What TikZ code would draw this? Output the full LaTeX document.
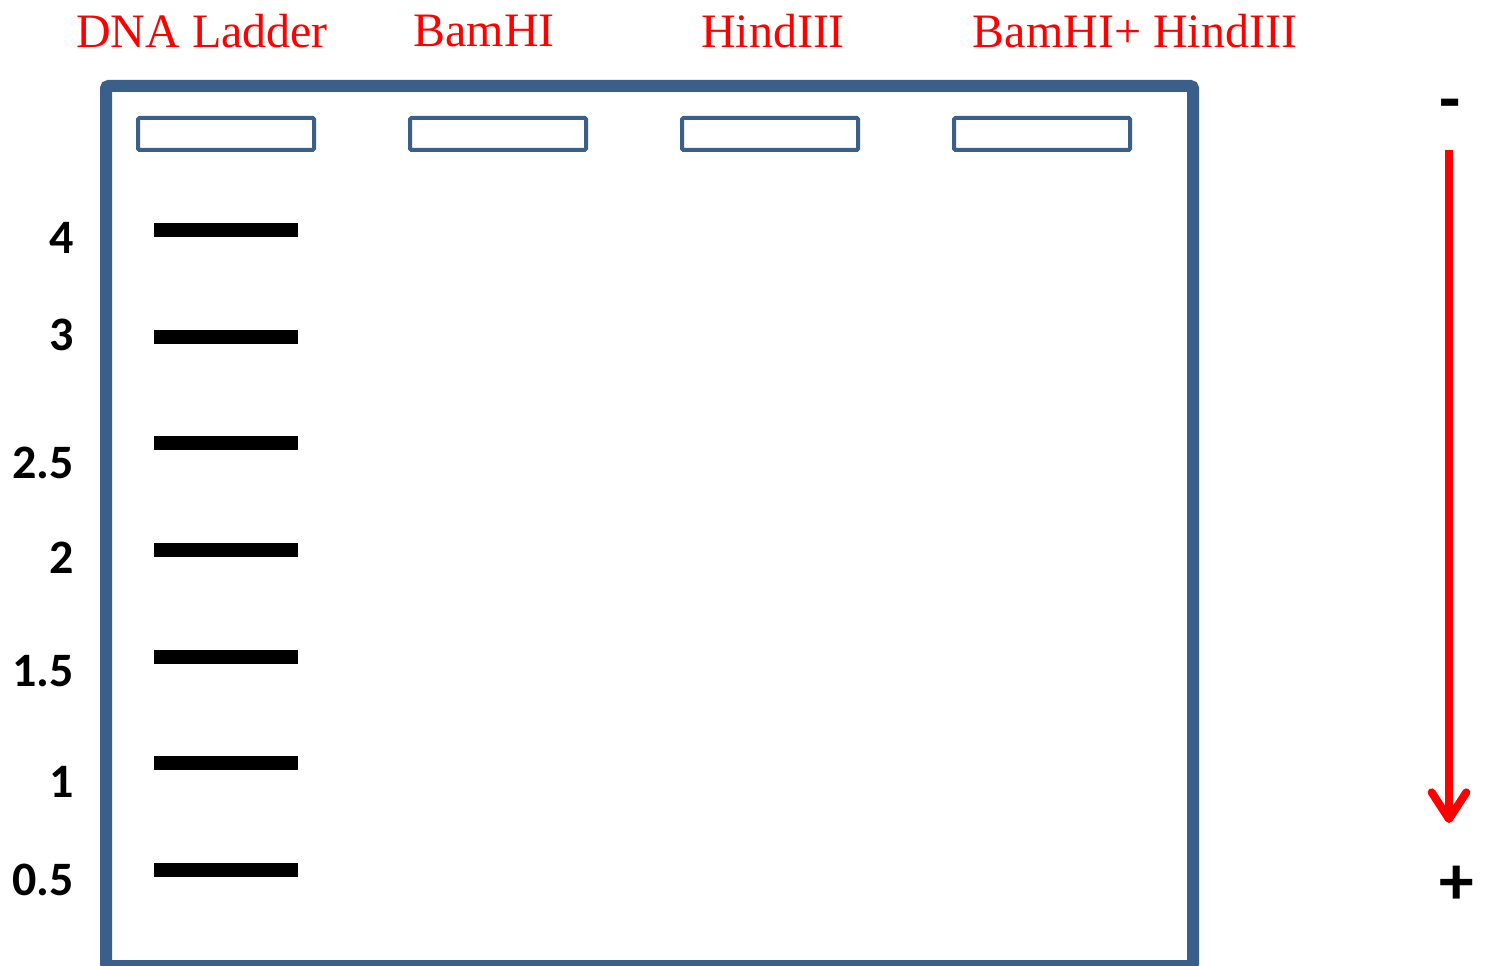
\documentclass[tikz,border=0pt]{standalone}
\usepackage{fontspec}
\setmainfont{Liberation Serif}
\newfontfamily\numfont{Carlito}
\usetikzlibrary{arrows.meta}
\definecolor{gelblue}{RGB}{58,95,138}
\definecolor{lblred}{RGB}{255,0,0}
\tikzset{
  gelbox/.style={draw=gelblue,line width=9pt,rounded corners=2pt},
  wellbox/.style={draw=gelblue,line width=3pt,rounded corners=1pt},
  bandbar/.style={fill=black,draw=none,minimum width=108pt,minimum height=10.5pt,inner sep=0pt},
  lanelbl/.style={text=lblred,font=\fontsize{36}{36}\selectfont,inner sep=0pt},
  sizelbl/.style={font=\numfont\bfseries\fontsize{36}{36}\selectfont,anchor=east,inner sep=0pt},
  polelbl/.style={font=\numfont\bfseries\fontsize{52}{52}\selectfont,inner sep=0pt},
}
\begin{document}
\begin{tikzpicture}[x=0.75pt,y=-0.75pt]
\useasboundingbox (0,0) rectangle (1489,966);
% gel
\draw[gelbox] (106,86) rectangle (1193,966);
% wells
\foreach \x in {137,409,681,953}{
  \draw[wellbox] (\x+1,118) rectangle (\x+177,150);
}
% lane labels
\node[lanelbl] (l1) at (202,31) {DNA Ladder};
\node[lanelbl] (l2) at (484,31) {BamHI};
\node[lanelbl] (l3) at (773,31) {HindIII};
\node[lanelbl] (l4) at (1135,31) {BamHI+ HindIII};
% bands
\foreach \y/\n in {230/a,337/b,443/c,550/d,657/e,763/f,870/g}{
  \node[bandbar] (band\n) at (226,\y) {};
}
% sizes
\foreach \y/\t/\n in {238/4/a,335/3/b,463/2.5/c,558/2/d,671/1.5/e,782/1/f,880/0.5/g}{
  \node[sizelbl] (size\n) at (74,\y) {\t};
}
% poles
\node[polelbl] (minus) at (1450,111) {-};
\node[polelbl] (plus) at (1457,885) {+};
\coordinate (arrS) at (1449,150);
\coordinate (arrE) at (1449,823);
\draw[lblred,line width=6pt,-{Straight Barb[length=20pt,width=26pt,line cap=round,line join=round]}] (arrS) -- (arrE);
\end{tikzpicture}
\end{document}
